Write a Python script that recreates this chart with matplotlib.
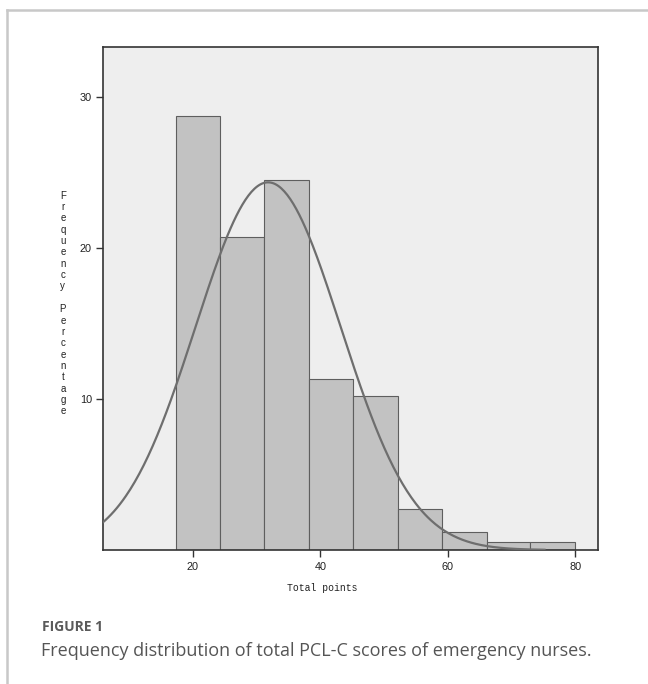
import numpy as np
import matplotlib
matplotlib.use("Agg")
import matplotlib.pyplot as plt
from matplotlib.lines import Line2D

# histogram of total PCL-C points (percent per bin)
bin_edges = [17.4, 24.3, 31.2, 38.2, 45.2, 52.2, 59.1, 66.1, 73.0, 80.0]
pct = [28.7, 20.7, 24.5, 11.3, 10.2, 2.7, 1.2, 0.5, 0.5]

# fitted normal curve
curve_mean = 31.8
curve_sd = 11.4
curve_start = 5.0
curve_end = 75.2

xticks = [20, 40, 60, 80]
yticks = [10, 20, 30]
xlabel = "Total points"
ylabel = "Frequency Percentage"
fig_label = "FIGURE 1"
caption = "Frequency distribution of total PCL-C scores of emergency nurses."

fig = plt.figure(figsize=(6.48, 6.84), dpi=100)
ax = fig.add_axes([103 / 648, 1 - 550 / 684, 495 / 648, 503 / 684])
ax.set_facecolor("#eeeeee")

widths = np.diff(bin_edges)
ax.bar(bin_edges[:-1], pct, width=widths, align="edge",
       color="#c2c2c2", edgecolor="#5e5e5e", linewidth=0.8, zorder=2)

# normal curve scaled to percent per bin
bw = np.mean(widths)
xs = np.linspace(curve_start, curve_end, 300)
ys = 100 * bw * np.exp(-(xs - curve_mean) ** 2 / (2 * curve_sd ** 2)) / (curve_sd * np.sqrt(2 * np.pi))
ax.plot(xs, ys, color="#6e6e6e", linewidth=1.6, zorder=3)

ax.set_xlim(5.88, 83.6)
ax.set_ylim(0, 33.3)
ax.set_xticks(xticks)
ax.set_yticks(yticks)

tick_font = ["Liberation Sans", "DejaVu Sans"]
for lab in ax.get_xticklabels() + ax.get_yticklabels():
    lab.set_family(tick_font)
    lab.set_fontsize(7.8)
    lab.set_color("#222222")
ax.tick_params(axis="both", length=5, width=1, color="#333333", pad=3, direction="out")
ax.tick_params(axis="x", pad=4)
for s in ax.spines.values():
    s.set_color("#333333")
    s.set_linewidth(1.2)

mono = ["Liberation Mono", "DejaVu Sans Mono"]
ax.text(0.442, -0.076, xlabel, transform=ax.transAxes, ha="center", va="center",
        fontsize=7, family=mono, color="#222222")
ax.text(-0.081, 0.49, "\n".join(list(ylabel)), transform=ax.transAxes,
        ha="center", va="center", fontsize=7, family=tick_font, color="#222222",
        linespacing=1.17)

# outer frame lines
fig.add_artist(Line2D([7 / 648, 7 / 648], [0, 1 - 9.5 / 684], color="#c8c8c8", linewidth=1.8))
fig.add_artist(Line2D([7 / 648, 1], [1 - 9.5 / 684, 1 - 9.5 / 684], color="#c8c8c8", linewidth=1.8))

cap_font = ["Open Sans", "Lato", "DejaVu Sans"]
fig.text(42 / 648, 1 - 627 / 684, fig_label, fontsize=10, fontweight="bold",
         family=cap_font, color="#5a5a5a", va="center", ha="left")
fig.text(41 / 648, 1 - 651 / 684, caption, fontsize=13,
         family=cap_font, color="#555555", va="center", ha="left")

fig.savefig("out.png", dpi=100)
